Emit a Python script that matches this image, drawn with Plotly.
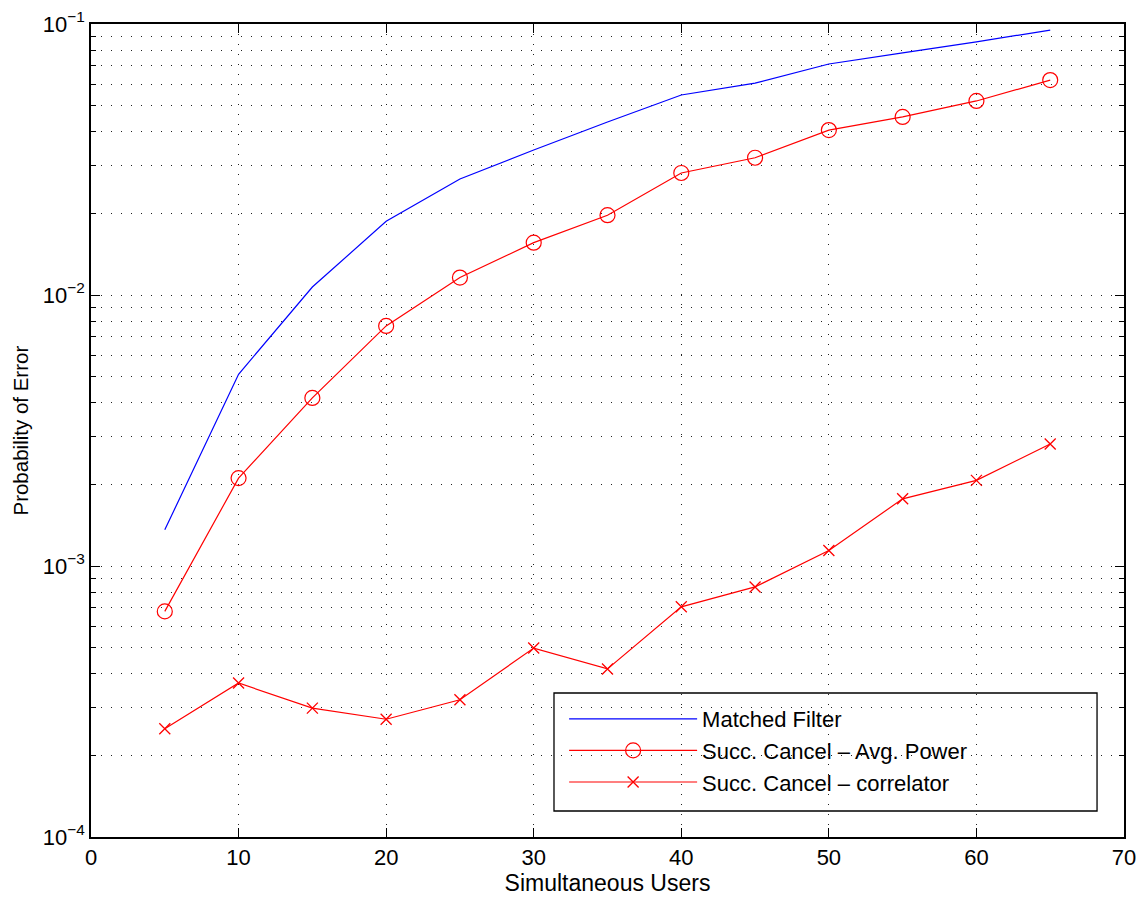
import plotly.graph_objects as go

users = [5, 10, 15, 20, 25, 30, 35, 40, 45, 50, 55, 60, 65]
matched_filter = [1.36e-3, 5.1e-3, 1.07e-2, 1.87e-2, 2.68e-2, 3.43e-2, 4.35e-2,
                  5.47e-2, 6.05e-2, 7.12e-2, 7.82e-2, 8.59e-2, 9.5e-2]
succ_avg_power = [6.8e-4, 2.11e-3, 4.17e-3, 7.69e-3, 1.16e-2, 1.56e-2, 1.97e-2,
                  2.82e-2, 3.21e-2, 4.06e-2, 4.54e-2, 5.2e-2, 6.21e-2]
succ_correlator = [2.51e-4, 3.7e-4, 2.99e-4, 2.72e-4, 3.21e-4, 4.98e-4, 4.17e-4,
                   7.07e-4, 8.37e-4, 1.14e-3, 1.77e-3, 2.07e-3, 2.82e-3]

y_major = [1e-4, 1e-3, 1e-2, 1e-1]
y_major_text = ["10<sup>\u22124</sup>", "10<sup>\u22123</sup>",
                "10<sup>\u22122</sup>", "10<sup>\u22121</sup>"]
y_minor = [k * 10.0 ** e for e in (-4, -3, -2) for k in range(2, 10)]
x_ticks = [0, 10, 20, 30, 40, 50, 60, 70]

FONT = "Liberation Sans, Arial, Helvetica, sans-serif"

fig = go.Figure()
fig.add_trace(go.Scatter(x=users, y=matched_filter, mode="lines",
                         name="Matched Filter",
                         line=dict(color="#0000ff", width=1.2)))
fig.add_trace(go.Scatter(x=users, y=succ_avg_power, mode="lines+markers",
                         name="Succ. Cancel \u2013 Avg. Power",
                         line=dict(color="#ff0000", width=1.2),
                         marker=dict(symbol="circle-open", size=15,
                                     color="#ff0000", line=dict(width=1.2))))
fig.add_trace(go.Scatter(x=users, y=succ_correlator, mode="lines+markers",
                         name="Succ. Cancel \u2013 correlator",
                         line=dict(color="#ff0000", width=1.2),
                         marker=dict(symbol="x-thin-open", size=11,
                                     color="#ff0000", line=dict(width=1.3))))

grid_dash = "1px,9px"
fig.update_xaxes(range=[0, 70], tickvals=x_ticks, ticks="inside", ticklen=9,
                 tickcolor="black", showline=True, linecolor="black",
                 linewidth=1.5, mirror="allticks", showgrid=True,
                 gridcolor="#222222", gridwidth=1, griddash=grid_dash,
                 zeroline=False,
                 tickfont=dict(family=FONT, size=22, color="black"),
                 title=dict(text="Simultaneous Users", standoff=2,
                            font=dict(family=FONT, size=23, color="black")))
fig.update_yaxes(type="log", range=[-4, -1], tickvals=y_major,
                 ticktext=y_major_text, ticks="inside", ticklen=9,
                 tickcolor="black", showline=True, linecolor="black",
                 linewidth=1.5, mirror="allticks", showgrid=True,
                 gridcolor="#222222", gridwidth=1, griddash=grid_dash,
                 zeroline=False,
                 minor=dict(tickvals=y_minor, ticks="inside", ticklen=5,
                            tickcolor="black", showgrid=True,
                            gridcolor="#222222", gridwidth=1,
                            griddash=grid_dash),
                 tickfont=dict(family=FONT, size=22, color="black"))

fig.add_annotation(text="Probability of Error", xref="paper", yref="paper",
                   x=-0.0687, y=0.5, xanchor="center", yanchor="middle",
                   textangle=-90, showarrow=False,
                   font=dict(family=FONT, size=20.5, color="black"))

fig.add_shape(type="rect", xref="paper", yref="paper",
              x0=0.4482, x1=0.9739, y0=0.0320, y1=0.1771,
              layer="between", fillcolor="white",
              line=dict(color="black", width=1.3))

fig.update_layout(
    width=1141, height=898,
    margin=dict(l=91, r=17, t=24, b=61, autoexpand=False),
    paper_bgcolor="white", plot_bgcolor="white",
    font=dict(family=FONT, color="black"),
    showlegend=True,
    legend=dict(x=0.458, y=0.171, xanchor="left", yanchor="top",
                bgcolor="rgba(0,0,0,0)", borderwidth=0,
                font=dict(family=FONT, size=22, color="black"),
                itemwidth=128, tracegroupgap=0),
)

fig.write_html("out.html", config={"displayModeBar": False},
               post_script="document.body.style.margin='0px';")
